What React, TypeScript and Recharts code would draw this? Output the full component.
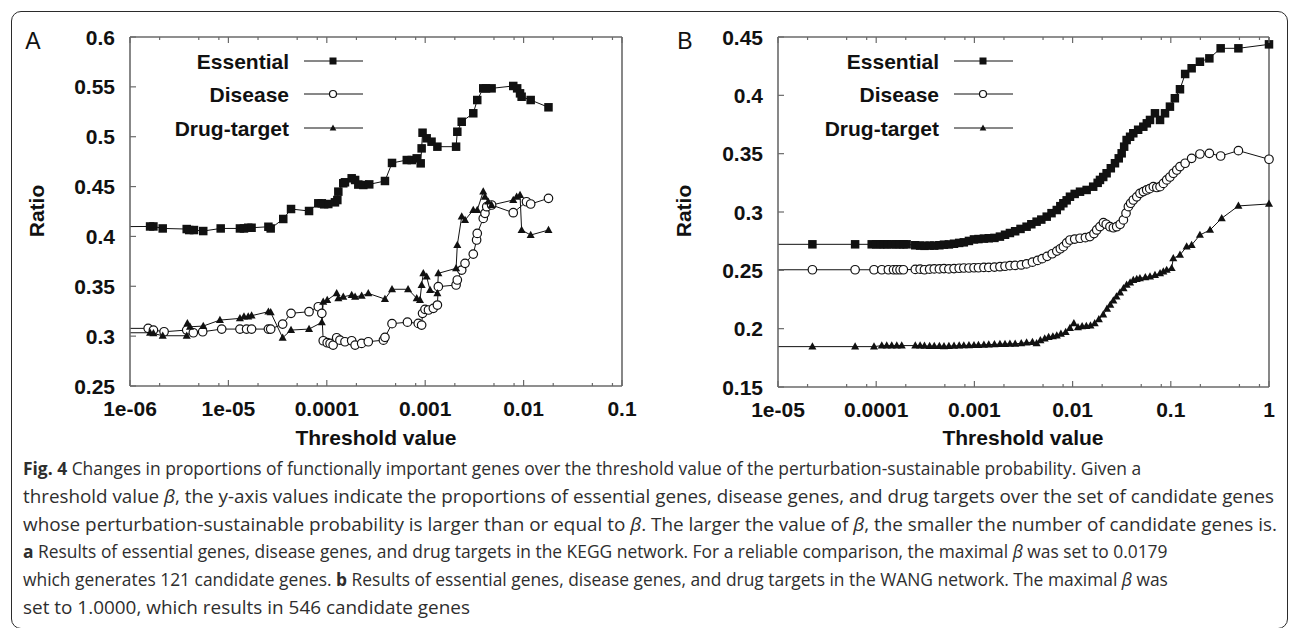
import { ComposedChart, Line, Scatter, XAxis, YAxis, Legend } from 'recharts';

type Pair = [number, number];
type Marker = 'square' | 'circle' | 'triangle';

const INK = '#111111';
const FRAME = '#6a6a6a';
const FONT = "'Liberation Sans', Arial, Helvetica, sans-serif";

// ---------- panel A : KEGG network ----------
const xMajorA = [1e-6, 1e-5, 1e-4, 1e-3, 1e-2, 1e-1];
const xLabelsA = ['1e-06', '1e-05', '0.0001', '0.001', '0.01', '0.1'];
const yTicksA = [0.25, 0.3, 0.35, 0.4, 0.45, 0.5, 0.55, 0.6];

const essentialA: Pair[] = [
  [5e-7, 0.4097], [1.6e-6, 0.41], [1.73e-6, 0.41], [2.15e-6, 0.408], [3.77e-6, 0.4074], [4.0e-6, 0.4064],
  [4.47e-6, 0.4064], [5.55e-6, 0.4054], [8.35e-6, 0.408], [1.31e-5, 0.408], [1.44e-5, 0.408], [1.59e-5, 0.4087],
  [1.72e-5, 0.4087], [2.55e-5, 0.4097], [2.69e-5, 0.408], [3.61e-5, 0.4175], [4.33e-5, 0.4275], [6.6e-5, 0.4255],
  [8.2e-5, 0.4332], [8.9e-5, 0.4332], [9.4e-5, 0.4322], [1.035e-4, 0.4325], [1.21e-4, 0.4342], [1.28e-4, 0.4365],
  [1.31e-4, 0.4449], [1.47e-4, 0.4533], [1.53e-4, 0.4543], [1.79e-4, 0.4583], [1.94e-4, 0.4566], [2.09e-4, 0.452],
  [2.35e-4, 0.4516], [2.7e-4, 0.4522], [3.9e-4, 0.4556], [4.6e-4, 0.4737], [6.5e-4, 0.4766], [7.3e-4, 0.4766],
  [8.2e-4, 0.4783], [9.0e-4, 0.4733], [9.2e-4, 0.4883], [9.4e-4, 0.504], [1.035e-3, 0.4984], [1.16e-3, 0.495],
  [1.33e-3, 0.49], [2.06e-3, 0.49], [2.12e-3, 0.505], [2.35e-3, 0.515], [3.08e-3, 0.5235], [3.38e-3, 0.5368],
  [3.89e-3, 0.5485], [4.15e-3, 0.5485], [4.73e-3, 0.5485], [7.85e-3, 0.5509], [8.6e-3, 0.5485], [9.2e-3, 0.5435],
  [9.55e-3, 0.5401], [1.18e-2, 0.5368], [1.79e-2, 0.5295],
];

const diseaseA: Pair[] = [
  [5e-7, 0.3078], [1.53e-6, 0.3078], [1.73e-6, 0.3061], [2.22e-6, 0.3044], [3.77e-6, 0.3061], [4.4e-6, 0.3034],
  [5.48e-6, 0.3044], [8.55e-6, 0.3071], [1.31e-5, 0.3071], [1.53e-5, 0.3071], [1.72e-5, 0.3071], [2.55e-5, 0.3071],
  [2.69e-5, 0.3071], [3.56e-5, 0.3121], [4.33e-5, 0.3229], [6.6e-5, 0.3245], [8.2e-5, 0.3295], [8.9e-5, 0.3229],
  [9.2e-5, 0.2954], [1.01e-4, 0.2934], [1.08e-4, 0.2927], [1.16e-4, 0.291], [1.26e-4, 0.2984], [1.36e-4, 0.296],
  [1.53e-4, 0.2944], [1.79e-4, 0.2954], [1.94e-4, 0.291], [2.26e-4, 0.2927], [2.64e-4, 0.2944], [3.76e-4, 0.296],
  [3.9e-4, 0.2988], [4.6e-4, 0.3125], [6.6e-4, 0.314], [8.5e-4, 0.3128], [9.2e-4, 0.3111], [9.4e-4, 0.3229],
  [9.95e-4, 0.3269], [1.08e-3, 0.3262], [1.21e-3, 0.3279], [1.33e-3, 0.3312], [1.36e-3, 0.3496], [2.06e-3, 0.3513],
  [2.12e-3, 0.3563], [2.35e-3, 0.3663], [2.54e-3, 0.373], [3.08e-3, 0.3823], [3.33e-3, 0.3964], [3.38e-3, 0.403],
  [3.89e-3, 0.4181], [4.05e-3, 0.4232], [4.22e-3, 0.4298], [4.73e-3, 0.4315], [7.85e-3, 0.4238], [1.07e-2, 0.4348],
  [1.18e-2, 0.4325], [1.79e-2, 0.4382],
];

const drugA: Pair[] = [
  [5e-7, 0.3034], [1.6e-6, 0.3034], [1.73e-6, 0.3027], [2.15e-6, 0.3004], [3.77e-6, 0.3004], [3.83e-6, 0.3128],
  [4.07e-6, 0.3094], [5.55e-6, 0.3101], [8.2e-6, 0.3161], [1.31e-5, 0.3178], [1.44e-5, 0.3195], [1.59e-5, 0.3195],
  [1.72e-5, 0.3205], [2.55e-5, 0.3245], [2.69e-5, 0.3238], [3.56e-5, 0.2984], [4.33e-5, 0.3061], [6.6e-5, 0.3071],
  [8.9e-5, 0.3138], [9.2e-5, 0.3345], [1.01e-4, 0.3362], [1.26e-4, 0.3429], [1.31e-4, 0.3379], [1.47e-4, 0.3395],
  [1.79e-4, 0.3412], [1.94e-4, 0.3395], [2.26e-4, 0.3405], [2.64e-4, 0.3429], [3.9e-4, 0.3372], [4.6e-4, 0.347],
  [6.7e-4, 0.347], [8.2e-4, 0.3379], [8.85e-4, 0.3362], [9.2e-4, 0.3513], [9.57e-4, 0.363], [1.035e-3, 0.3596],
  [1.12e-3, 0.3462], [1.33e-3, 0.3429], [1.36e-3, 0.363], [2.06e-3, 0.368], [2.12e-3, 0.3914], [2.35e-3, 0.4198],
  [2.54e-3, 0.4164], [3.08e-3, 0.4265], [3.38e-3, 0.4265], [3.89e-3, 0.4449], [4.05e-3, 0.4398], [4.37e-3, 0.4348],
  [4.73e-3, 0.4315], [7.85e-3, 0.4365], [8.5e-3, 0.4398], [9.2e-3, 0.4415], [9.55e-3, 0.4064], [1.18e-2, 0.4014],
  [1.79e-2, 0.4064],
];

// ---------- panel B : WANG network ----------
const xMajorB = [1e-5, 1e-4, 1e-3, 1e-2, 1e-1, 1];
const xLabelsB = ['1e-05', '0.0001', '0.001', '0.01', '0.1', '1'];
const yTicksB = [0.15, 0.2, 0.25, 0.3, 0.35, 0.4, 0.45];

const essentialB: Pair[] = [
  [3e-6, 0.2723], [2.24e-5, 0.2723], [6.1e-5, 0.2723], [9.0e-5, 0.2723], [1.0e-4, 0.2723], [1.1e-4, 0.2723],
  [1.2e-4, 0.2723], [1.3e-4, 0.2723], [1.45e-4, 0.2723], [1.6e-4, 0.2723], [1.75e-4, 0.2723], [1.9e-4, 0.2723],
  [2.04e-4, 0.2723], [2.5e-4, 0.2715], [2.8e-4, 0.2712], [3.1e-4, 0.271], [3.5e-4, 0.2712], [3.9e-4, 0.2712],
  [4.4e-4, 0.2715], [4.9e-4, 0.272], [5.5e-4, 0.2722], [6.2e-4, 0.2728], [7.0e-4, 0.2735], [7.8e-4, 0.274],
  [8.8e-4, 0.2752], [9.9e-4, 0.2765], [1.1e-3, 0.2768], [1.25e-3, 0.2772], [1.4e-3, 0.2775], [1.6e-3, 0.2778],
  [1.82e-3, 0.2789], [2.05e-3, 0.2805], [2.3e-3, 0.282], [2.6e-3, 0.2835], [2.95e-3, 0.2855], [3.4e-3, 0.2874],
  [3.8e-3, 0.2895], [4.3e-3, 0.2917], [4.8e-3, 0.2935], [5.45e-3, 0.296], [6.1e-3, 0.299], [6.9e-3, 0.3017],
  [7.5e-3, 0.305], [8.05e-3, 0.3075], [8.7e-3, 0.31], [9.4e-3, 0.3131], [1.05e-2, 0.3155], [1.19e-2, 0.3174],
  [1.39e-2, 0.3189], [1.62e-2, 0.3217], [1.8e-2, 0.325], [1.9e-2, 0.3275], [2.05e-2, 0.33], [2.22e-2, 0.3332],
  [2.45e-2, 0.3375], [2.7e-2, 0.3418], [2.95e-2, 0.346], [3.16e-2, 0.3503], [3.35e-2, 0.356], [3.55e-2, 0.3617],
  [3.85e-2, 0.3645], [4.15e-2, 0.3675], [4.65e-2, 0.3705], [5.25e-2, 0.3731], [5.7e-2, 0.376], [6.14e-2, 0.3789],
  [6.9e-2, 0.3846], [7.77e-2, 0.3789], [8.73e-2, 0.3846], [9.8e-2, 0.3903], [0.11, 0.3975], [0.124, 0.4052],
  [0.14, 0.4183], [0.163, 0.4232], [0.198, 0.4288], [0.247, 0.4317], [0.322, 0.4403], [0.488, 0.4403], [1, 0.4437],
];

const diseaseB: Pair[] = [
  [3e-6, 0.2505], [2.24e-5, 0.2505], [6.1e-5, 0.2505], [9.5e-5, 0.2505], [1.14e-4, 0.2505], [1.33e-4, 0.2505],
  [1.5e-4, 0.2505], [1.62e-4, 0.2505], [1.75e-4, 0.2505], [1.89e-4, 0.2505], [2.5e-4, 0.2508], [2.8e-4, 0.251],
  [3.1e-4, 0.2505], [3.5e-4, 0.251], [3.9e-4, 0.2512], [4.4e-4, 0.2512], [4.9e-4, 0.2515], [5.5e-4, 0.2512],
  [6.2e-4, 0.2515], [7.0e-4, 0.2518], [7.8e-4, 0.252], [8.8e-4, 0.252], [9.9e-4, 0.2522], [1.1e-3, 0.2522],
  [1.25e-3, 0.2525], [1.4e-3, 0.2525], [1.6e-3, 0.2528], [1.82e-3, 0.2531], [2.05e-3, 0.2535], [2.3e-3, 0.254],
  [2.6e-3, 0.2542], [3.0e-3, 0.2546], [3.4e-3, 0.2555], [3.9e-3, 0.257], [4.4e-3, 0.2585], [4.9e-3, 0.26],
  [5.5e-3, 0.262], [6.2e-3, 0.2642], [6.9e-3, 0.2665], [7.5e-3, 0.2685], [8.05e-3, 0.2703], [8.7e-3, 0.2735],
  [9.4e-3, 0.276], [1.05e-2, 0.2768], [1.19e-2, 0.2775], [1.35e-2, 0.278], [1.5e-2, 0.2789], [1.65e-2, 0.2815],
  [1.76e-2, 0.2846], [1.9e-2, 0.2875], [2.06e-2, 0.2909], [2.2e-2, 0.2895], [2.4e-2, 0.2874], [2.6e-2, 0.2865],
  [2.81e-2, 0.2874], [3.05e-2, 0.2895], [3.29e-2, 0.2932], [3.5e-2, 0.299], [3.7e-2, 0.3046], [3.9e-2, 0.3075],
  [4.15e-2, 0.3103], [4.5e-2, 0.313], [4.85e-2, 0.316], [5.25e-2, 0.3175], [5.68e-2, 0.3189], [6.1e-2, 0.32],
  [6.64e-2, 0.3217], [7.2e-2, 0.321], [7.77e-2, 0.3217], [8.4e-2, 0.3245], [9.08e-2, 0.3275], [0.098, 0.33],
  [0.106, 0.3332], [0.115, 0.336], [0.124, 0.3389], [0.14, 0.3418], [0.163, 0.346], [0.198, 0.3497],
  [0.247, 0.3503], [0.322, 0.348], [0.488, 0.3526], [1, 0.3452],
];

const drugB: Pair[] = [
  [3e-6, 0.1846], [2.24e-5, 0.1846], [6.1e-5, 0.1846], [9.5e-5, 0.1846], [1.14e-4, 0.1855], [1.28e-4, 0.1855],
  [1.44e-4, 0.1855], [1.62e-4, 0.1855], [1.82e-4, 0.1855], [2.5e-4, 0.1855], [2.8e-4, 0.1855], [3.1e-4, 0.1852],
  [3.5e-4, 0.185], [3.9e-4, 0.185], [4.4e-4, 0.185], [4.9e-4, 0.1848], [5.5e-4, 0.185], [6.2e-4, 0.1852],
  [7.0e-4, 0.1855], [7.8e-4, 0.1856], [8.8e-4, 0.1857], [9.9e-4, 0.1858], [1.1e-3, 0.186], [1.25e-3, 0.1862],
  [1.4e-3, 0.1863], [1.6e-3, 0.1865], [1.82e-3, 0.1867], [2.05e-3, 0.1868], [2.3e-3, 0.187], [2.6e-3, 0.187],
  [3.0e-3, 0.1875], [3.4e-3, 0.188], [3.9e-3, 0.1884], [4.3e-3, 0.1875], [4.7e-3, 0.19], [5.2e-3, 0.1915],
  [5.7e-3, 0.1927], [6.3e-3, 0.1933], [6.9e-3, 0.194], [7.6e-3, 0.1955], [8.5e-3, 0.197], [9.4e-3, 0.2005],
  [1.03e-2, 0.2046], [1.135e-2, 0.2012], [1.25e-2, 0.202], [1.38e-2, 0.2022], [1.52e-2, 0.2026], [1.68e-2, 0.2045],
  [1.85e-2, 0.208], [2.05e-2, 0.212], [2.24e-2, 0.217], [2.42e-2, 0.2205], [2.6e-2, 0.224], [2.8e-2, 0.2275],
  [3.04e-2, 0.231], [3.3e-2, 0.2345], [3.55e-2, 0.2375], [3.85e-2, 0.2395], [4.15e-2, 0.2417], [4.5e-2, 0.2425],
  [4.85e-2, 0.2432], [5.5e-2, 0.244], [6.14e-2, 0.2446], [6.9e-2, 0.246], [7.77e-2, 0.2475], [8.4e-2, 0.249],
  [9.08e-2, 0.2503], [0.102, 0.2518], [0.106, 0.2603], [0.124, 0.2632], [0.145, 0.2703], [0.163, 0.2717],
  [0.198, 0.2803], [0.251, 0.2846], [0.33, 0.2946], [0.488, 0.3052], [1, 0.3069],
];

const seriesNames = ['Essential', 'Disease', 'Drug-target'];
const seriesMarkers: Marker[] = ['square', 'circle', 'triangle'];
const minorSteps = [2, 5, 8];

// caption text; `end` is the right edge of a line where it is stretched to the reference width
const captionLines = [
  { lead: 'Fig. 4', rest: ' Changes in proportions of functionally important genes over the threshold value of the perturbation-sustainable probability. Given a', end: 0 },
  { lead: '', rest: 'threshold value |β|, the y-axis values indicate the proportions of essential genes, disease genes, and drug targets over the set of candidate genes', end: 1274 },
  { lead: '', rest: 'whose perturbation-sustainable probability is larger than or equal to |β|. The larger the value of |β|, the smaller the number of candidate genes is.', end: 1277 },
  { lead: 'a', rest: ' Results of essential genes, disease genes, and drug targets in the KEGG network. For a reliable comparison, the maximal |β| was set to 0.0179', end: 0 },
  { lead: '', rest: 'which generates 121 candidate genes. ~b~ Results of essential genes, disease genes, and drug targets in the WANG network. The maximal |β| was', end: 0 },
  { lead: '', rest: 'set to 1.0000, which results in 546 candidate genes', end: 470 },
];

const labelStyle = { fontFamily: FONT, fontWeight: 700, fontSize: 21, fill: INK };

function markerNode(kind: Marker, cx: number, cy: number, s: number) {
  if (kind === 'square') {
    return <rect x={cx - s / 2} y={cy - s / 2} width={s} height={s} fill={INK} />;
  }
  if (kind === 'circle') {
    return <circle cx={cx} cy={cy} r={s / 2} fill="#fff" stroke={INK} strokeWidth={1.2} />;
  }
  const w = s * 0.95;
  const h = s * 0.85;
  return (
    <polygon
      points={`${cx},${cy - h * 0.6} ${cx - w / 2},${cy + h * 0.4} ${cx + w / 2},${cy + h * 0.4}`}
      fill={INK}
    />
  );
}

function xTick(side: 'bottom' | 'top', majors: number[], labels: string[]) {
  return (p: any) => {
    const v = p.payload.value;
    const idx = majors.findIndex((m) => Math.abs(m - v) / m < 1e-6);
    const len = idx >= 0 ? 6 : 3;
    const dir = side === 'bottom' ? -1 : 1;
    return (
      <g>
        <line x1={p.x} x2={p.x} y1={p.y} y2={p.y + dir * len} stroke={FRAME} strokeWidth={1.2} />
        {side === 'bottom' && idx >= 0 && (
          <text x={p.x} y={p.y + 22} textAnchor="middle" dominantBaseline="central" style={labelStyle}>
            {labels[idx]}
          </text>
        )}
      </g>
    );
  };
}

function yTick(side: 'left' | 'right') {
  return (p: any) => {
    const dir = side === 'left' ? 1 : -1;
    return (
      <g>
        <line x1={p.x} x2={p.x + dir * 6} y1={p.y} y2={p.y} stroke={FRAME} strokeWidth={1.2} />
        {side === 'left' && (
          <text x={p.x - 15} y={p.y} textAnchor="end" dominantBaseline="central" style={labelStyle}>
            {String(p.payload.value)}
          </text>
        )}
      </g>
    );
  };
}

function LegendRows() {
  const rows = [17, 50, 84];
  return (
    <svg width={260} height={100}>
      {seriesNames.map((name, i) => (
        <g key={name}>
          <text x={169} y={rows[i]} textAnchor="end" dominantBaseline="central" style={labelStyle}>
            {name}
          </text>
          <line x1={184} x2={243} y1={rows[i]} y2={rows[i]} stroke={INK} strokeWidth={1} />
          {markerNode(seriesMarkers[i], 213, rows[i], 7)}
        </g>
      ))}
    </svg>
  );
}

type PanelProps = {
  left: number;
  letter: string;
  data: Pair[][];
  xMajor: number[];
  xLabels: string[];
  yTicks: number[];
  margin: { top: number; right: number; bottom: number; left: number };
  markerSize: number;
  letterX: number;
  ratioX: number;
  titleX: number;
};

function Panel(props: PanelProps) {
  const { data, xMajor, xLabels, yTicks, margin, markerSize } = props;
  const xMin = xMajor[0];
  const xMax = xMajor[xMajor.length - 1];
  const yMin = yTicks[0];
  const yMax = yTicks[yTicks.length - 1];
  const xTicks: number[] = [];
  xMajor.forEach((d, i) => {
    xTicks.push(d);
    if (i < xMajor.length - 1) minorSteps.forEach((m) => xTicks.push(d * m));
  });
  const axisLine = { stroke: FRAME, strokeWidth: 1.6 };
  const common = { tickSize: 0, tickMargin: 0, tickLine: false, interval: 0 as const, axisLine };

  return (
    <div style={{ position: 'absolute', left: props.left, top: 0, width: 640, height: 460 }}>
      <ComposedChart width={640} height={460} margin={margin}>
        <XAxis
          xAxisId="b" dataKey="x" type="number" scale="log" domain={[xMin, xMax]} allowDataOverflow
          ticks={xTicks} height={40} tick={xTick('bottom', xMajor, xLabels)} {...common}
        />
        <XAxis
          xAxisId="t" orientation="top" dataKey="x" type="number" scale="log" domain={[xMin, xMax]}
          ticks={xTicks} height={1} tick={xTick('top', xMajor, xLabels)} {...common}
        />
        <YAxis
          yAxisId="l" dataKey="y" type="number" domain={[yMin, yMax]} ticks={yTicks} width={60}
          tick={yTick('left')} {...common}
        />
        <YAxis
          yAxisId="r" orientation="right" dataKey="y" type="number" domain={[yMin, yMax]} ticks={yTicks}
          width={1} tick={yTick('right')} {...common}
        />
        {data.map((pts, i) => (
          <Line
            key={'l' + i}
            data={pts.map(([x, y]) => ({ x, y }))}
            xAxisId="b" yAxisId="l" dataKey="y" type="linear"
            stroke={INK} strokeWidth={1} dot={false} activeDot={false}
            isAnimationActive={false} legendType="none"
          />
        ))}
        {data.map((pts, i) => (
          <Scatter
            key={'s' + i}
            data={pts.filter(([x]) => x >= xMin).map(([x, y]) => ({ x, y }))}
            xAxisId="t" yAxisId="l" dataKey="y"
            shape={(p: any) => markerNode(seriesMarkers[i], p.cx, p.cy, markerSize)}
            isAnimationActive={false} legendType="none"
          />
        ))}
        <Legend
          layout="vertical" align="center" verticalAlign="middle"
          wrapperStyle={{ left: 120, top: 44, width: 260, height: 100 }}
          content={() => <LegendRows />}
        />
      </ComposedChart>
      <div style={{ position: 'absolute', left: props.letterX - 20, top: 26, width: 40, textAlign: 'center', fontFamily: FONT, fontSize: 23, lineHeight: '30px', color: INK }}>
        {props.letter}
      </div>
      <div style={{ position: 'absolute', left: props.ratioX - 50, top: 196, width: 100, textAlign: 'center', transform: 'rotate(-90deg)', fontFamily: FONT, fontWeight: 700, fontSize: 21, lineHeight: '30px', color: INK }}>
        Ratio
      </div>
      <div style={{ position: 'absolute', left: props.titleX - 120, top: 423, width: 240, textAlign: 'center', fontFamily: FONT, fontWeight: 700, fontSize: 21, lineHeight: '30px', color: INK }}>
        Threshold value
      </div>
    </div>
  );
}

function CaptionLine({ text, lead, y, end }: { text: string; lead: string; y: number; end: number }) {
  const parts = text.split(/(\|β\||~b~)/);
  const fit = end > 0 ? { textLength: end - 23, lengthAdjust: 'spacingAndGlyphs' } : {};
  return (
    <text x={23} y={y} {...fit}>
      {lead && <tspan fontWeight={700}>{lead}</tspan>}
      {parts.map((s, i) =>
        s === '|β|' ? <tspan key={i} fontStyle="italic">β</tspan>
          : s === '~b~' ? <tspan key={i} fontWeight={700}>b</tspan>
            : <tspan key={i}>{s}</tspan>
      )}
    </text>
  );
}

export default function App() {
  return (
    <div style={{ position: 'relative', width: 1290, height: 628, overflow: 'hidden', background: '#fff' }}>
      <style>{'body{margin:0}'}</style>
      <div style={{ position: 'absolute', left: 11, top: 11, width: 1277, height: 618, boxSizing: 'border-box', border: '1.5px solid #2b2b2b', borderRadius: 10 }} />
      <Panel
        left={0} letter="A" data={[essentialA, diseaseA, drugA]}
        xMajor={xMajorA} xLabels={xLabelsA} yTicks={yTicksA}
        margin={{ top: 36, right: 17, bottom: 34, left: 70 }}
        markerSize={8.5} letterX={33} ratioX={37} titleX={376}
      />
      <Panel
        left={650} letter="B" data={[essentialB, diseaseB, drugB]}
        xMajor={xMajorB} xLabels={xLabelsB} yTicks={yTicksB}
        margin={{ top: 36, right: 20, bottom: 33, left: 68 }}
        markerSize={8.5} letterX={35} ratioX={34} titleX={373}
      />
      <svg style={{ position: 'absolute', left: 0, top: 450 }} width={1290} height={178}>
        <g style={{ fontFamily: "'Open Sans', 'Liberation Sans', sans-serif", fontSize: 17.4, fill: '#2e2e2e' }}>
          {captionLines.map((l, i) => (
            <CaptionLine key={i} lead={l.lead} text={l.rest} y={25 + i * 27.8} end={l.end} />
          ))}
        </g>
      </svg>
    </div>
  );
}
